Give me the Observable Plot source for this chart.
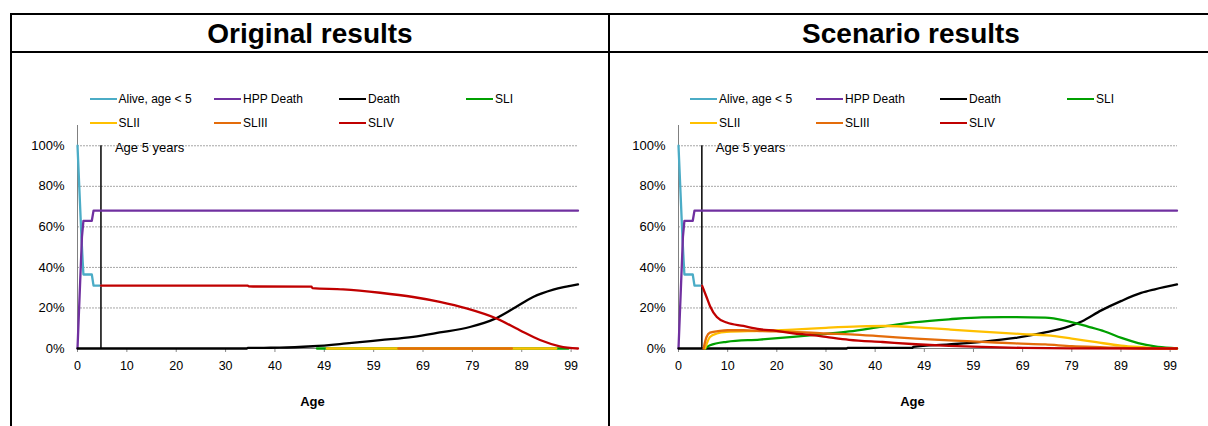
<!DOCTYPE html>
<html>
<head>
<meta charset="utf-8">
<script src="https://cdn.jsdelivr.net/npm/d3@7"></script>
<script src="https://cdn.jsdelivr.net/npm/@observablehq/plot@0.6"></script>
<style>
  body { margin: 0; background: #fff; }
  #page { position: relative; width: 1208px; height: 426px; overflow: hidden; background: #fff;
          font-family: "Liberation Sans", Arial, sans-serif; color: #000; }
  .abs { position: absolute; }
  .title { position: absolute; top: 16px; height: 36px; line-height: 36px; text-align: center;
           font-weight: bold; font-size: 28px; }
  .panel { position: absolute; top: 53px; width: 596px; height: 373px; }
  .leg { position: absolute; font-size: 12px; line-height: 14px; white-space: nowrap; }
  .leg .sw { display: inline-block; width: 27px; height: 2px; vertical-align: middle; margin-right: 2px; position: relative; top: -1px; }
  .panel svg { position: absolute; left: 0; top: 62px; overflow: visible; }
</style>
</head>
<body>
<div id="page">
  <div class="abs" style="left:10px;top:13px;width:1300px;height:2px;background:#000"></div>
  <div class="abs" style="left:10px;top:51px;width:1300px;height:2px;background:#000"></div>
  <div class="abs" style="left:10px;top:13px;width:2px;height:420px;background:#000"></div>
  <div class="abs" style="left:608px;top:13px;width:2px;height:420px;background:#000"></div>
  <div class="title" style="left:12px;width:596px">Original results</div>
  <div class="title" style="left:610px;width:602px">Scenario results</div>
  <div class="panel" id="left" style="left:12px"></div>
  <div class="panel" id="right" style="left:610px"></div>
</div>
<script>
// ---------- shared axis / legend data ----------
const tickPos = [0, 10, 20, 30, 40, 50, 60, 70, 80, 90, 100];
const tickLabels = ["0", "10", "20", "30", "40", "49", "59", "69", "79", "89", "99"];
const yTicks = [0, 20, 40, 60, 80, 100];
const seriesNames = ["Alive, age < 5", "HPP Death", "Death", "SLI", "SLII", "SLIII", "SLIV"];
const seriesColors = ["#4BACC6", "#7030A0", "#000000", "#00A000", "#FFC000", "#E46C0A", "#C00000"];
const ageMarker = 4.75;
const ageMarkerLabel = "Age 5 years";

// ---------- early-life series (same in both panels) ----------
const aliveX = [0, 0.8, 1.05, 1.2, 2.9, 3.25, 4.75];
const aliveY = [100, 55, 43, 36.5, 36.5, 31, 31];
const hppX = [0, 0.9, 1.2, 2.9, 3.25, 101.4];
const hppY = [0, 55, 63, 63, 68, 68];

// ---------- Original results ----------
const origDeathX = [0, 34.3, 34.5, 41, 47.7, 54.5, 61.3, 68, 73.4, 79.5, 84.5, 88.3, 92.3, 96.4, 101.4];
const origDeathY = [0, 0, 0.3, 0.4, 1.1, 2.5, 4.1, 5.7, 7.9, 10.6, 14.6, 19.7, 25.4, 29, 31.6];
const origSLIX = [48.5, 99.5];
const origSLIY = [0, 0];
const origSLIIX = [50.5, 97];
const origSLIIY = [0, 0];
const origSLIIIX = [65, 88];
const origSLIIIY = [0, 0];
const origSLIVX = [4.75, 34.5, 34.7, 47.4, 47.6, 53.8, 61.3, 68, 73.4, 78.8, 84.9, 89.6, 93.7, 97.7, 101.4];
const origSLIVY = [31, 31, 30.6, 30.5, 29.8, 29.2, 27.5, 25.4, 23, 19.8, 14.8, 9, 4.2, 1.1, 0];

// ---------- Scenario results ----------
const scenDeathX = [0, 34.2, 34.4, 47.5, 47.8, 55, 61.7, 68.5, 74.6, 79.3, 82, 86, 90.1, 94.1, 96.9, 101.4];
const scenDeathY = [0, 0, 0.3, 0.3, 0.8, 2.0, 3.3, 5.2, 7.9, 10.8, 13.3, 18.8, 23.5, 27.4, 29.2, 31.6];
const scenSLIX = [5.4, 6.4, 9.8, 16.5, 23.3, 30, 34.7, 41.5, 48.3, 55, 61.7, 68.5, 74.6, 78.6, 83.3, 86.7, 90.1, 93.5, 96.9, 100.2, 101.4];
const scenSLIY = [0, 1.6, 3.3, 4.4, 5.7, 7.2, 8.4, 10.8, 13.0, 14.4, 15.4, 15.5, 15.2, 13.8, 10.8, 8.4, 5.2, 2.7, 1.1, 0.3, 0.1];
const scenSLIIX = [5.4, 6.4, 7.8, 9.8, 16.5, 23.3, 30, 36.8, 42, 50, 55, 60, 65, 70, 75, 80, 85, 90, 95, 98, 101.4];
const scenSLIIY = [0, 5.7, 7.4, 8.2, 8.7, 9.3, 10.2, 10.9, 11.1, 10.2, 9.4, 8.6, 7.8, 7.1, 6.5, 4.9, 3.1, 1.4, 0.5, 0, 0];
const scenSLIIIX = [5.1, 5.7, 6.4, 8.4, 10, 13.2, 16.5, 20, 23.3, 30, 35, 41.5, 48.3, 55, 61.7, 68.5, 74.6, 80, 86.7, 93, 96, 101.4];
const scenSLIIIY = [0, 5.7, 7.8, 8.7, 9, 9, 8.6, 8.4, 8.2, 7.4, 7.0, 6.0, 4.9, 4.0, 3.3, 2.5, 2.0, 1.1, 0.6, 0.1, 0, 0];
const scenSLIVX = [4.8, 5.7, 6.4, 7.8, 9.8, 13.2, 16.5, 19.9, 23.3, 26.7, 30, 34.7, 41.5, 48.3, 55, 61.7, 70, 80, 101.4];
const scenSLIVY = [31, 25.4, 21, 15.5, 12.8, 11.1, 9.5, 8.7, 7.5, 6.7, 5.7, 4.3, 3.2, 2.1, 1.3, 0.8, 0.3, 0.1, 0];

const pts = (xs, ys) => xs.map((x, i) => ({x, y: ys[i]}));

function legend(container, cols) {
  const rows = [46, 70];
  seriesNames.forEach((name, i) => {
    const d = document.createElement("div");
    d.className = "leg";
    d.style.left = cols[i % 4] + "px";
    d.style.top = (rows[Math.floor(i / 4)] - 7) + "px";
    d.innerHTML = `<span class="sw" style="background:${seriesColors[i]}"></span>${name}`;
    container.appendChild(d);
  });
}

function chart(series, marginLeft, marginRight) {
  const lineMarks = series.map((s, i) => Plot.line(pts(s[0], s[1]), {
    x: "x", y: "y", stroke: seriesColors[i], strokeWidth: 2.3,
    curve: i < 2 ? "linear" : "monotone-x"
  }));
  return Plot.plot({
    width: 596, height: 303,
    marginLeft, marginRight, marginTop: 10, marginBottom: 70,
    x: {domain: [0, 101.5], axis: null},
    y: {domain: [0, 110], axis: null},
    style: {fontFamily: '"Liberation Sans", Arial, sans-serif', fontSize: "12px", color: "#000", background: "transparent"},
    marks: [
      Plot.ruleY(yTicks.filter(d => d > 0), {stroke: "#a6a6a6", strokeWidth: 1, strokeDasharray: "2,1"}),
      Plot.axisY({ticks: yTicks, tickFormat: d => d + "%", tickSize: 0, tickPadding: 13, fontSize: 13, label: null}),
      Plot.axisX({ticks: tickPos, tickFormat: (d, i) => tickLabels[i], tickSize: 4, stroke: "#888", tickPadding: 9, fontSize: 12.5, label: null}),
      Plot.ruleX([0], {stroke: "#808080"}),
      Plot.ruleY([0], {stroke: "#808080"}),
      Plot.ruleX([ageMarker], {y1: 0, y2: 100, stroke: "#000", strokeWidth: 1.5}),
      Plot.text([ageMarkerLabel], {x: ageMarker, y: 100, dx: 14, dy: 2, textAnchor: "start", fontSize: 13}),
      Plot.text(["Age"], {frameAnchor: "bottom", dx: -15.5, dy: 57, fontWeight: "bold", fontSize: 13}),
      ...lineMarks
    ]
  });
}

const leftEl = document.getElementById("left");
const rightEl = document.getElementById("right");
legend(leftEl, [77.5, 202, 327, 454]);
legend(rightEl, [80, 206, 330, 457]);

leftEl.appendChild(chart([
  [aliveX, aliveY], [hppX, hppY], [origDeathX, origDeathY],
  [origSLIX, origSLIY], [origSLIIX, origSLIIY], [origSLIIIX, origSLIIIY], [origSLIVX, origSLIVY]
], 65, 30));
rightEl.appendChild(chart([
  [aliveX, aliveY], [hppX, hppY], [scenDeathX, scenDeathY],
  [scenSLIX, scenSLIY], [scenSLIIX, scenSLIIY], [scenSLIIIX, scenSLIIIY], [scenSLIVX, scenSLIVY]
], 68, 29));
</script>
</body>
</html>
